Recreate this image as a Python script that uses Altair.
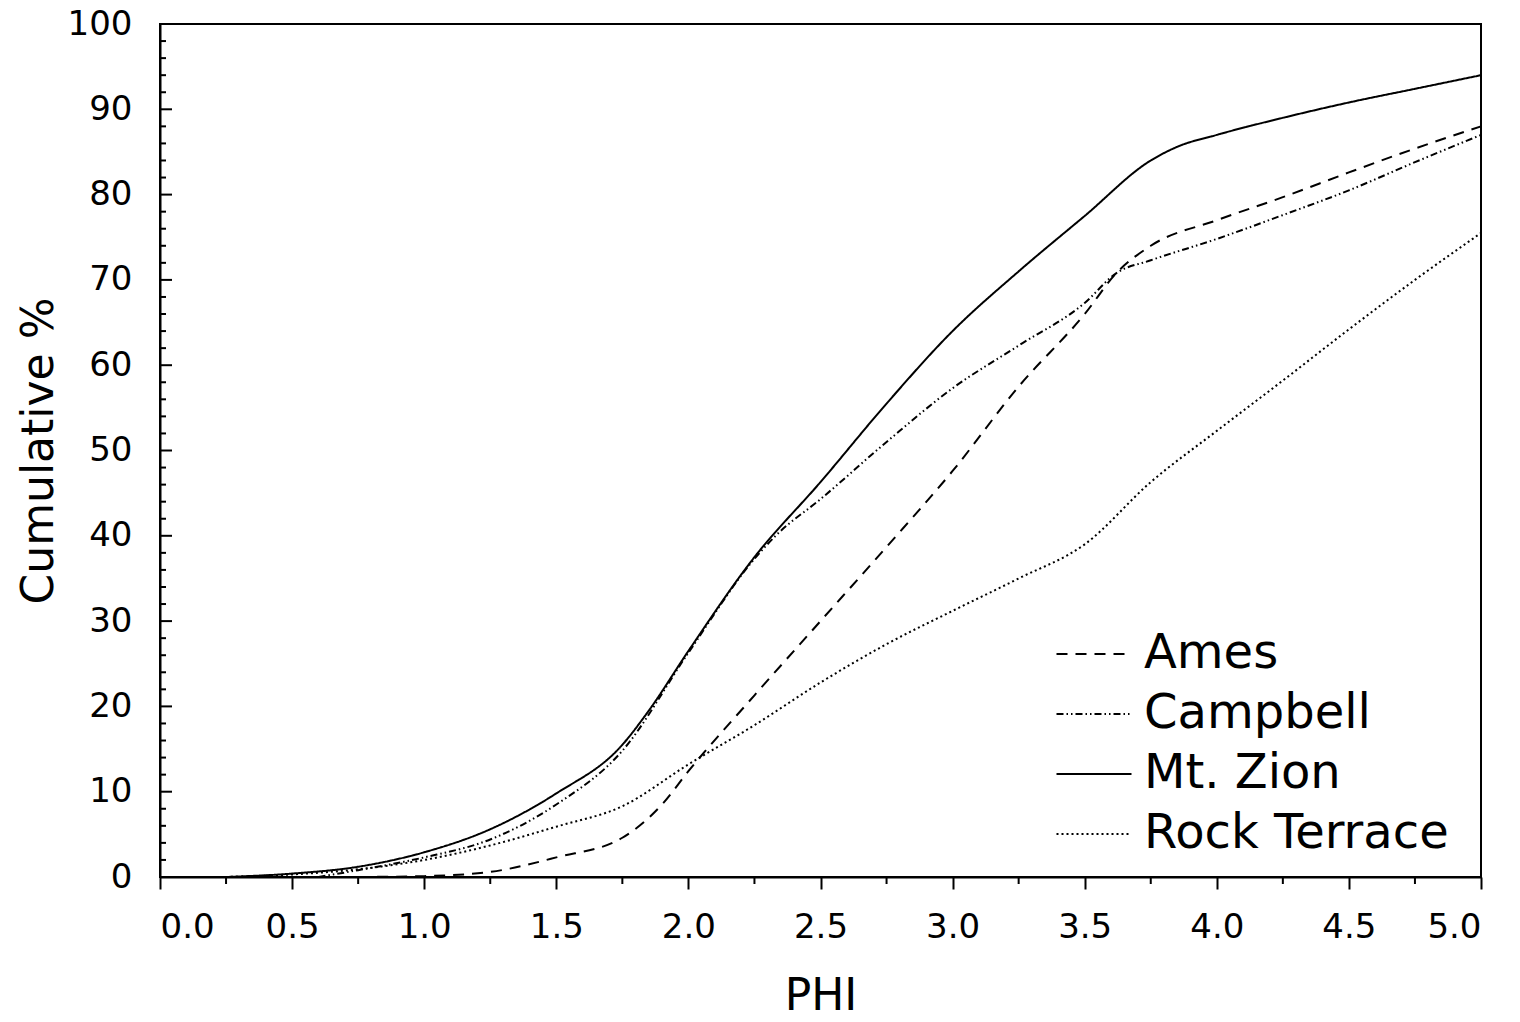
import altair as alt
import pandas as pd

# ---- data ----
series_names = ["Ames", "Campbell", "Mt. Zion", "Rock Terrace"]

ames_phi = [0.75, 1.0, 1.25, 1.5, 1.75, 1.9, 2.0, 2.25, 2.5, 2.75, 3.0, 3.25, 3.5, 3.62, 3.75, 4.0, 4.25, 4.5, 4.75, 5.0]
ames_pct = [0.0, 0.1, 0.6, 2.3, 4.6, 8.5, 12.4, 21.3, 30.0, 38.7, 47.6, 57.5, 66.0, 70.8, 74.0, 77.0, 79.7, 82.6, 85.4, 88.0]

campbell_phi = [0.6, 0.75, 1.0, 1.25, 1.5, 1.75, 2.0, 2.25, 2.33, 2.5, 2.75, 3.0, 3.25, 3.5, 3.62, 3.75, 4.0, 4.25, 4.5, 4.75, 5.0]
campbell_pct = [0.0, 0.8, 2.3, 4.4, 8.5, 14.8, 26.3, 37.3, 40.0, 44.3, 51.0, 57.3, 62.3, 67.3, 70.8, 72.3, 74.8, 77.6, 80.5, 83.8, 87.0]

zion_phi = [0.25, 0.5, 0.75, 1.0, 1.25, 1.5, 1.75, 1.85, 2.0, 2.25, 2.5, 2.75, 3.0, 3.25, 3.5, 3.75, 3.85, 4.0, 4.25, 4.5, 4.75, 5.0]
zion_pct = [0.0, 0.4, 1.2, 2.9, 5.6, 9.8, 15.5, 19.5, 26.5, 37.5, 46.3, 55.5, 64.0, 71.0, 77.5, 84.0, 85.6, 87.0, 89.0, 90.8, 92.4, 94.0]

rock_phi = [0.25, 0.5, 0.75, 1.0, 1.25, 1.5, 1.75, 2.0, 2.25, 2.5, 2.75, 3.0, 3.25, 3.5, 3.75, 4.0, 4.25, 4.5, 4.75, 5.0]
rock_pct = [0.0, 0.3, 0.9, 2.0, 3.7, 5.9, 8.3, 13.2, 17.8, 22.8, 27.3, 31.2, 35.0, 39.0, 46.3, 52.3, 58.2, 64.2, 70.0, 75.5]

x_major = [0.0, 0.5, 1.0, 1.5, 2.0, 2.5, 3.0, 3.5, 4.0, 4.5, 5.0]
x_minor = [0.25, 0.75, 1.25, 1.75, 2.25, 2.75, 3.25, 3.75, 4.25, 4.75]
y_major = list(range(0, 101, 10))
y_minor = [v for v in range(0, 101, 2) if v % 10 != 0]

dash_styles = [[11, 8], [7, 3, 1.5, 3, 1.5, 3], [1, 0], [2, 3]]

rows = []
for name, xs, ys in [("Ames", ames_phi, ames_pct), ("Campbell", campbell_phi, campbell_pct),
                     ("Mt. Zion", zion_phi, zion_pct), ("Rock Terrace", rock_phi, rock_pct)]:
    for x, y in zip(xs, ys):
        rows.append({"series": name, "phi": x, "pct": y})
df = pd.DataFrame(rows)

W, H = 1321, 853
FONT = "DejaVu Sans"
xscale = alt.Scale(domain=[0, 5], nice=False, zero=False)
yscale = alt.Scale(domain=[0, 100], nice=False)

x_axis = alt.Axis(orient="bottom", values=x_major, format=".1f", tickSize=12, grid=False,
                  title="PHI", labelPadding=21, titlePadding=30)
y_axis = alt.Axis(orient="left", values=y_major, ticks=False, tickSize=0, grid=False,
                  title="Cumulative %", labelPadding=28, titlePadding=6)

lines = alt.Chart(df).mark_line(color="black", strokeWidth=2, interpolate="monotone").encode(
    x=alt.X("phi:Q", scale=xscale, axis=x_axis),
    y=alt.Y("pct:Q", scale=yscale, axis=y_axis),
    strokeDash=alt.StrokeDash("series:N",
                              scale=alt.Scale(domain=series_names, range=dash_styles),
                              legend=alt.Legend(title=None, orient="none", legendX=910, legendY=606,
                                                symbolType="M-3,0H3", symbolSize=625,
                                                symbolStrokeWidth=2, symbolStrokeColor="black",
                                                labelFont=FONT, labelFontSize=48, labelColor="black",
                                                labelLimit=600, labelOffset=26, rowPadding=12)),
)

# minor x ticks (outside, below the axis)
x_minor_ticks = alt.Chart(pd.DataFrame({"phi": x_minor})).mark_rule(color="black", strokeWidth=2).encode(
    x=alt.X("phi:Q", scale=xscale, axis=x_axis),
    y=alt.value(H), y2=alt.value(H + 7),
)

# y ticks drawn inside the plot area
y_minor_ticks = alt.Chart(pd.DataFrame({"pct": y_minor})).mark_rule(color="black", strokeWidth=2).encode(
    y=alt.Y("pct:Q", scale=yscale, axis=y_axis),
    x=alt.value(0), x2=alt.value(6),
)
y_major_ticks = alt.Chart(pd.DataFrame({"pct": y_major})).mark_rule(color="black", strokeWidth=2).encode(
    y=alt.Y("pct:Q", scale=yscale, axis=y_axis),
    x=alt.value(0), x2=alt.value(12),
)

chart = alt.layer(lines, x_minor_ticks, y_minor_ticks, y_major_ticks).properties(
    width=W, height=H,
    padding={"left": 160, "top": 24, "right": 39, "bottom": 145},
    autosize=alt.AutoSizeParams(type="none"),
    background="white",
).configure_view(
    stroke="black", strokeWidth=2
).configure_axis(
    labelFont=FONT, labelFontSize=34, labelColor="black",
    titleFont=FONT, titleFontSize=44, titleFontWeight="normal", titleColor="black",
    domainColor="black", domainWidth=2, tickColor="black", tickWidth=2,
)

chart.save("out.html", embed_options={"renderer": "svg", "actions": False})
